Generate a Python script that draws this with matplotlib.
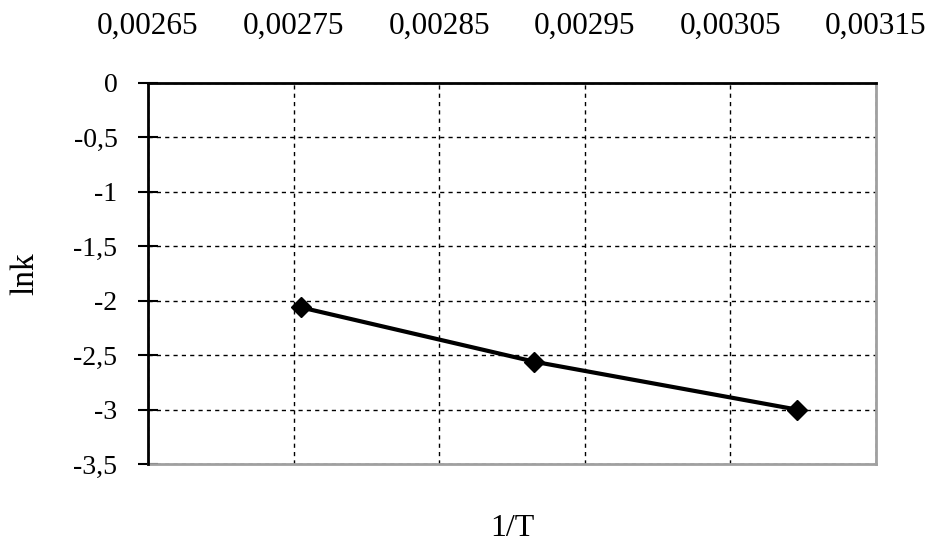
import matplotlib.pyplot as plt
from matplotlib.ticker import FuncFormatter

# data
inv_T = [1 / 363, 1 / 343, 1 / 323]
lnk = [-2.06, -2.56, -3.00]

x_ticks = [0.00265, 0.00275, 0.00285, 0.00295, 0.00305, 0.00315]
y_ticks = [0, -0.5, -1, -1.5, -2, -2.5, -3, -3.5]

plt.rcParams['font.family'] = ['Liberation Serif', 'DejaVu Serif']

fig = plt.figure(figsize=(9.29, 5.46), dpi=100)
ax = fig.add_axes([0.1593, 0.150, 0.7836, 0.698])

ax.plot(inv_T, lnk, color='black', lw=3, marker='D', ms=10, zorder=3)

ax.set_xlim(0.00265, 0.00315)
ax.set_ylim(-3.5, 0)
ax.set_xticks(x_ticks)
ax.set_yticks(y_ticks)

ax.xaxis.set_major_formatter(FuncFormatter(lambda v, p: ('%.5f' % v).replace('.', ',')))
ax.yaxis.set_major_formatter(FuncFormatter(lambda v, p: ('%g' % v).replace('.', ',')))

ax.xaxis.tick_top()
ax.tick_params(axis='x', length=0, pad=30, labelsize=22.5)
ax.tick_params(axis='y', direction='inout', length=14, width=1.5, labelsize=20, pad=15)

ax.grid(True, color='black', ls=(0, (3, 3)), lw=1)
ax.set_axisbelow(True)

for side in ['left', 'top']:
    ax.spines[side].set_linewidth(2)
    ax.spines[side].set_color('black')
for side in ['right', 'bottom']:
    ax.spines[side].set_linewidth(2)
    ax.spines[side].set_color('#a0a0a0')
ax.spines['top'].set_zorder(4)
ax.spines['left'].set_zorder(4)

ax.set_ylabel('lnk', fontsize=24, labelpad=24)
ax.set_xlabel('1/T', fontsize=23, labelpad=36)

plt.savefig('out.png', dpi=100)
plt.close()
